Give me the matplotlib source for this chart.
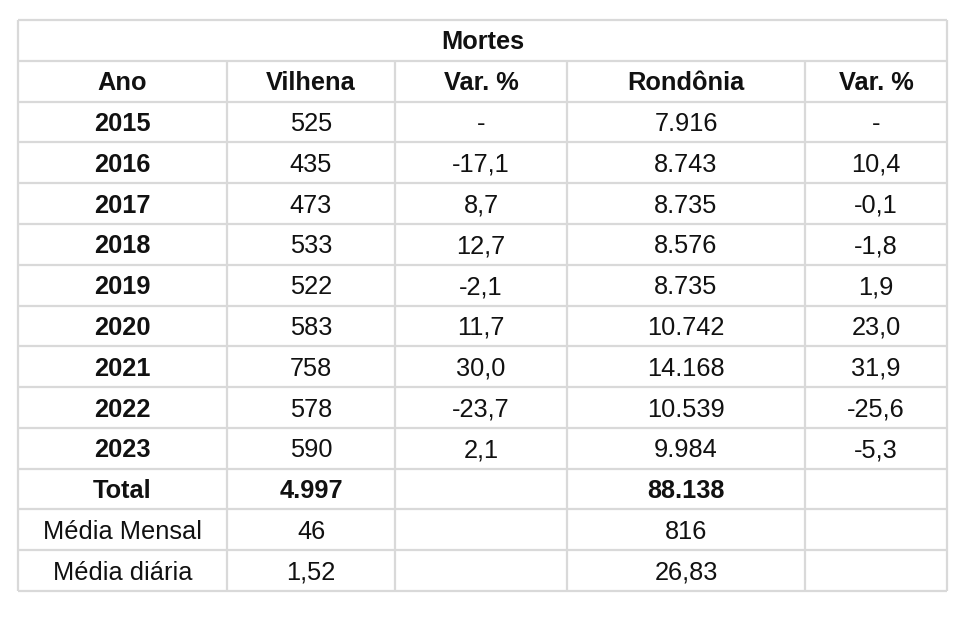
import matplotlib.pyplot as plt

plt.rcParams['font.family'] = ['Liberation Sans', 'DejaVu Sans']

title = "Mortes"
header = ["Ano", "Vilhena", "Var. %", "Rondônia", "Var. %"]
anos = ["2015", "2016", "2017", "2018", "2019", "2020", "2021", "2022", "2023"]
vilhena = ["525", "435", "473", "533", "522", "583", "758", "578", "590"]
var_vilhena = ["-", "-17,1", "8,7", "12,7", "-2,1", "11,7", "30,0", "-23,7", "2,1"]
rondonia = ["7.916", "8.743", "8.735", "8.576", "8.735", "10.742", "14.168", "10.539", "9.984"]
var_rondonia = ["-", "10,4", "-0,1", "-1,8", "1,9", "23,0", "31,9", "-25,6", "-5,3"]
resumo = [
    ("Total", "4.997", "", "88.138", ""),
    ("Média Mensal", "46", "", "816", ""),
    ("Média diária", "1,52", "", "26,83", ""),
]

# table geometry in pixels
col_edges = [18, 227, 395, 567, 805, 947]
top, bottom = 20, 591
n_rows = 2 + len(anos) + len(resumo)
row_h = (bottom - top) / n_rows
row_edges = [top + i * row_h for i in range(n_rows + 1)]

fig = plt.figure(figsize=(9.63, 6.18), dpi=100)
ax = fig.add_axes([0, 0, 1, 1])
ax.set_xlim(0, 963)
ax.set_ylim(618, 0)
ax.axis('off')

line_kw = dict(color='#d9d9d9', lw=1.6, zorder=1)
ax.hlines(row_edges, col_edges[0], col_edges[-1], **line_kw)
ax.vlines([col_edges[0], col_edges[-1]], top, bottom, **line_kw)
ax.vlines(col_edges[1:-1], row_edges[1], bottom, **line_kw)

fs = 18.3
cap_px = 0.716 * fs * 100 / 72  # cap height in pixels


def put(x, r, s, bold=False):
    y = (row_edges[r] + row_edges[r + 1]) / 2 + cap_px / 2
    ax.text(x, y, s, ha='center', va='baseline', fontsize=fs,
            fontweight='bold' if bold else 'normal', color='#111111')


def cell(r, c, s, bold=False):
    put((col_edges[c] + col_edges[c + 1]) / 2, r, s, bold)


put((col_edges[0] + col_edges[-1]) / 2, 0, title, bold=True)

for c, h in enumerate(header):
    cell(1, c, h, bold=True)

for i in range(len(anos)):
    r = i + 2
    cell(r, 0, anos[i], bold=True)
    cell(r, 1, vilhena[i])
    cell(r, 2, var_vilhena[i])
    cell(r, 3, rondonia[i])
    cell(r, 4, var_rondonia[i])

for j, row in enumerate(resumo):
    r = 2 + len(anos) + j
    for c, s in enumerate(row):
        cell(r, c, s, bold=(j == 0))

fig.savefig('out.png', dpi=100)
